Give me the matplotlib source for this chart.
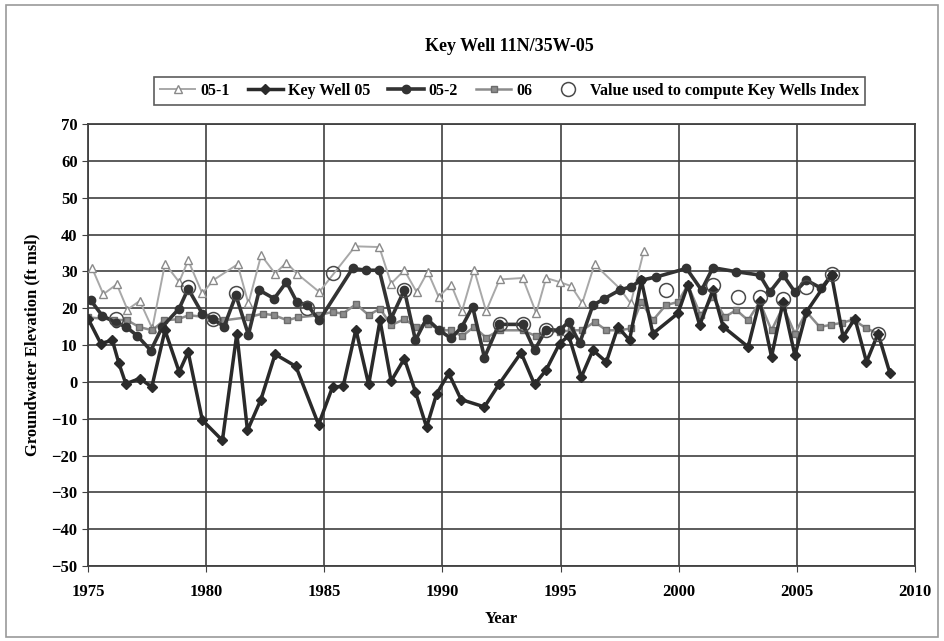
import matplotlib
matplotlib.use("Agg")
import matplotlib.pyplot as plt
from matplotlib.patches import Rectangle

# Series (year, ft msl)
yr_05_1 = [1975.18, 1975.65, 1976.22, 1976.67, 1977.19, 1977.72, 1978.26, 1978.86, 1979.24, 1979.84,
           1980.30, 1981.33, 1981.79, 1982.33, 1982.92, 1983.40, 1983.84, 1984.79, 1986.31, 1987.33,
           1987.83, 1988.39, 1988.91, 1989.38, 1989.84, 1990.37, 1990.83, 1991.34, 1991.85, 1992.42,
           1993.40, 1993.97, 1994.39, 1994.96, 1995.45, 1995.92, 1996.44, 1997.50, 1997.97, 1998.53]
val_05_1 = [30.8, 23.8, 26.5, 19.6, 22.0, 14.5, 32.1, 27.1, 33.0, 24.0,
            27.6, 31.9, 21.3, 34.4, 29.4, 32.4, 29.4, 24.4, 36.8, 36.6,
            26.7, 30.3, 24.4, 29.9, 23.1, 26.4, 19.2, 30.5, 19.2, 27.8,
            28.2, 18.7, 28.2, 27.1, 26.0, 21.4, 31.9, 25.4, 21.3, 35.6]

yr_kw05 = [1975.00, 1975.54, 1976.03, 1976.31, 1976.60, 1977.20, 1977.70, 1978.26, 1978.86, 1979.24,
           1979.84, 1980.69, 1981.30, 1981.75, 1982.32, 1982.92, 1983.80, 1984.76, 1985.35, 1985.80,
           1986.34, 1986.88, 1987.36, 1987.83, 1988.39, 1988.86, 1989.33, 1989.76, 1990.27, 1990.79,
           1991.78, 1992.39, 1993.33, 1993.90, 1994.39, 1994.96, 1995.35, 1995.88, 1996.37, 1996.94,
           1997.43, 1997.92, 1998.42, 1998.91, 1999.97, 2000.39, 2000.89, 2001.45, 2001.88, 2002.94,
           2003.43, 2003.93, 2004.42, 2004.92, 2005.41, 2006.47, 2006.96, 2007.46, 2007.95, 2008.44,
           2008.94]
val_kw05 = [17.2, 10.4, 11.3, 5.0, -0.5, 0.9, -1.4, 14.0, 2.7, 8.1,
            -10.4, -15.9, 13.1, -13.2, -4.8, 7.5, 4.2, -11.6, -1.4, -1.2,
            14.2, -0.7, 16.7, 0.2, 6.3, -2.7, -12.3, -3.2, 2.3, -4.8,
            -6.8, -0.7, 7.9, -0.7, 3.2, 10.4, 12.5, 1.3, 8.6, 5.4,
            14.9, 11.3, 27.6, 13.1, 18.6, 26.3, 15.4, 24.9, 15.0, 9.5,
            22.0, 6.8, 21.7, 7.2, 19.0, 29.0, 12.2, 17.2, 5.4, 13.1,
            2.4]

yr_05_2 = [1975.11, 1975.60, 1976.20, 1976.60, 1977.09, 1977.66, 1978.15, 1978.86, 1979.24, 1979.84,
           1980.30, 1980.76, 1981.26, 1981.79, 1982.25, 1982.88, 1983.40, 1983.84, 1984.29, 1984.79,
           1986.20, 1986.77, 1987.33, 1987.83, 1988.39, 1988.86, 1989.33, 1989.87, 1990.37, 1990.83,
           1991.28, 1991.78, 1992.39, 1993.40, 1993.90, 1994.39, 1994.96, 1995.35, 1995.81, 1996.37,
           1996.86, 1997.50, 1997.97, 1998.42, 1999.06, 2000.33, 2000.97, 2001.45, 2002.44, 2003.43,
           2003.86, 2004.42, 2004.92, 2005.41, 2006.04, 2006.47]
val_05_2 = [22.2, 18.0, 16.0, 15.0, 12.5, 8.5, 15.0, 19.9, 25.3, 18.5,
            17.0, 15.0, 23.5, 12.8, 24.9, 22.6, 27.1, 21.7, 20.8, 16.7,
            30.8, 30.3, 30.3, 17.2, 24.9, 11.3, 17.2, 14.0, 11.8, 15.0,
            20.4, 6.6, 15.6, 15.6, 8.6, 14.2, 14.0, 16.3, 10.5, 20.8,
            22.6, 24.9, 25.8, 27.6, 28.5, 30.8, 24.9, 31.0, 29.9, 29.0,
            24.4, 29.0, 24.4, 27.6, 25.4, 29.0]

yr_06 = [1975.00, 1976.10, 1976.67, 1977.16, 1977.72, 1978.22, 1978.80, 1979.28, 1980.20, 1980.76,
         1981.82, 1982.39, 1982.88, 1983.44, 1983.87, 1984.79, 1985.35, 1985.78, 1986.35, 1986.88,
         1987.36, 1987.83, 1988.39, 1988.89, 1989.38, 1989.94, 1990.37, 1990.83, 1991.34, 1991.85,
         1992.42, 1993.40, 1993.97, 1994.39, 1994.96, 1995.45, 1995.92, 1996.44, 1996.94, 1997.50,
         1997.97, 1998.42, 1998.91, 1999.45, 1999.97, 2000.39, 2000.93, 2001.45, 2001.95, 2002.44,
         2002.94, 2003.43, 2003.93, 2004.42, 2004.92, 2005.41, 2005.97, 2006.46, 2006.90, 2007.39,
         2007.95, 2008.44]
val_06 = [17.5, 16.9, 16.7, 14.9, 14.0, 16.7, 17.0, 18.1, 17.4, 16.7,
          17.6, 18.5, 18.1, 16.7, 17.5, 18.1, 19.0, 18.5, 21.1, 18.1,
          19.9, 15.4, 17.0, 14.9, 15.8, 14.0, 14.0, 12.4, 14.9, 12.0,
          14.0, 14.0, 12.4, 14.0, 13.5, 14.0, 14.0, 16.3, 14.0, 14.0,
          14.5, 21.7, 16.7, 20.8, 21.7, 26.3, 18.1, 23.1, 17.6, 19.5,
          16.7, 21.7, 14.0, 20.4, 13.1, 19.0, 14.9, 15.5, 16.0, 16.9,
          14.5, 13.1]

yr_used = [1976.20, 1979.24, 1980.30, 1981.26, 1984.25, 1985.35, 1988.39, 1992.42, 1993.40, 1994.39,
           1999.45, 2001.45, 2002.50, 2003.43, 2004.42, 2005.41, 2006.47, 2008.44]
val_used = [17.0, 25.8, 17.2, 24.0, 20.0, 29.5, 25.0, 15.8, 15.8, 14.0,
            24.9, 26.3, 23.1, 23.1, 22.6, 25.8, 29.4, 13.1]

serif = ['Liberation Serif', 'DejaVu Serif']
plt.rcParams['font.family'] = serif
plt.rcParams['font.weight'] = 'bold'

fig = plt.figure(figsize=(9.44, 6.41), dpi=100)
fig.patches.append(Rectangle((0.006, 0.006), 0.988, 0.986, transform=fig.transFigure,
                             fill=False, edgecolor='#9a9a9a', linewidth=1.2))
ax = fig.add_axes([0.0932, 0.117, 0.876, 0.6895])

ax.plot(yr_05_1, val_05_1, color='#a8a8a8', lw=1.4, marker='^', ms=5.5,
        mfc='white', mec='#8a8a8a', mew=1.0, label='05-1', zorder=3)
ax.plot(yr_kw05, val_kw05, color='#2a2a2a', lw=2.5, marker='D', ms=5,
        mfc='#2a2a2a', mec='#2a2a2a', label='Key Well 05', zorder=5)
ax.plot(yr_05_2, val_05_2, color='#333333', lw=2.6, marker='o', ms=6,
        mfc='#333333', mec='#333333', label='05-2', zorder=4)
ax.plot(yr_06, val_06, color='#8c8c8c', lw=1.8, marker='s', ms=4.5,
        mfc='#8c8c8c', mec='#6c6c6c', label='06', zorder=3.5)
ax.plot(yr_used, val_used, ls='none', marker='o', ms=10, mfc='none',
        mec='#4a4a4a', mew=1.1, label='Value used to compute Key Wells Index', zorder=6)

ax.set_xlim(1975, 2010)
ax.set_ylim(-50, 70)
ax.set_xticks(range(1975, 2011, 5))
ax.set_yticks(range(-50, 71, 10))
ax.grid(True, color='#404040', lw=1.2)
ax.set_axisbelow(True)
for s in ax.spines.values():
    s.set_color('#404040')
    s.set_linewidth(1.3)
ax.tick_params(axis='both', labelsize=12, length=4, color='#404040', direction='out')
ax.tick_params(axis='x', pad=9)
for lab in ax.get_xticklabels() + ax.get_yticklabels():
    lab.set_fontweight('bold')

ax.set_xlabel('Year', fontsize=12, fontweight='bold', labelpad=8)
ax.set_ylabel('Groundwater Elevation (ft msl)', fontsize=12, fontweight='bold', labelpad=8)

fig.text(0.54, 0.927, 'Key Well 11N/35W-05', ha='center', va='center',
         fontsize=13, fontweight='bold')

leg = fig.legend(loc='center', bbox_to_anchor=(0.54, 0.858), ncol=5, frameon=True,
                 fancybox=False, edgecolor='#333333', handlelength=2.2,
                 columnspacing=1.15, handletextpad=0.3, borderpad=0.35,
                 prop={'weight': 'bold', 'size': 11.5, 'family': serif})
leg.get_frame().set_linewidth(1.2)

fig.savefig('out.png', dpi=100)
